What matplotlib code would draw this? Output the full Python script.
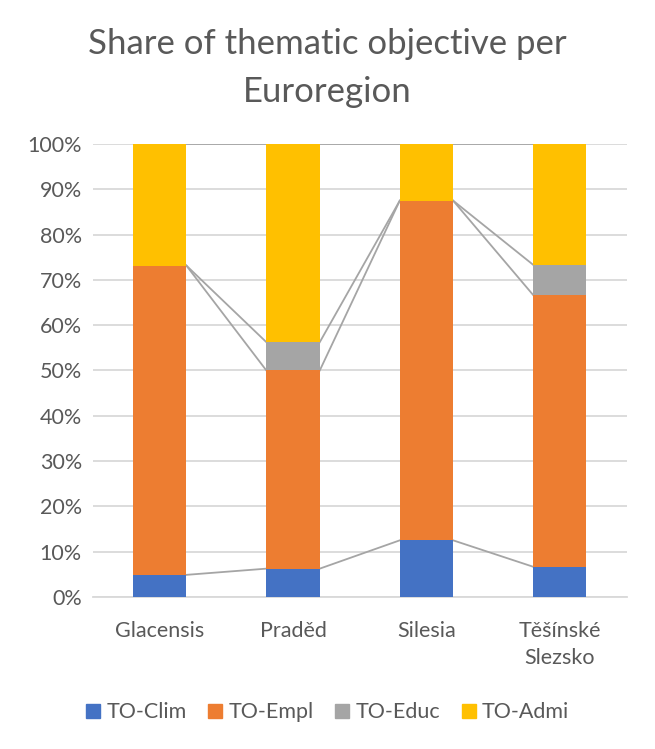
import numpy as np
import matplotlib.pyplot as plt
from matplotlib.patches import Patch

regions = ["Glacensis", "Praděd", "Silesia", "Těšínské\nSlezsko"]
series = ["TO-Clim", "TO-Empl", "TO-Educ", "TO-Admi"]
colors = ["#4472C4", "#ED7D31", "#A5A5A5", "#FFC000"]

# shares in percent per euroregion
to_clim = [4.88, 6.25, 12.5, 6.67]
to_empl = [68.29, 43.75, 75.0, 60.0]
to_educ = [0.0, 6.25, 0.0, 6.67]
to_admi = [26.83, 43.75, 12.5, 26.66]

values = np.array([to_clim, to_empl, to_educ, to_admi])
values = values / values.sum(axis=0) * 100

plt.rcParams['font.family'] = ['Lato', 'DejaVu Sans']
txt = "#595959"

fig = plt.figure(figsize=(6.55, 7.49), dpi=100)
ax = fig.add_axes([0.142, 0.203, 0.8145, 0.6047])

x = np.arange(len(regions))
w = 0.4
bottom = np.zeros(len(regions))
for vals, c in zip(values, colors):
    ax.bar(x, vals, w, bottom=bottom, color=c, zorder=3)
    bottom = bottom + vals
    # series lines between neighbouring columns
    for i in range(len(regions) - 1):
        ax.plot([x[i] + w / 2, x[i + 1] - w / 2], [bottom[i], bottom[i + 1]],
                color="#A5A5A5", lw=1.3, zorder=2)

ax.set_xlim(-0.5, len(regions) - 0.5)
ax.set_ylim(0, 100)
ax.set_yticks(np.arange(0, 101, 10))
ax.set_yticklabels([f"{v}%" for v in range(0, 101, 10)])
ax.set_xticks(x)
ax.set_xticklabels(regions, linespacing=1.45)
ax.tick_params(length=0, labelsize=15.5, colors=txt)
ax.tick_params(axis='x', pad=17)
ax.tick_params(axis='y', pad=8)
ax.grid(axis='y', color="#D9D9D9", lw=1.3, zorder=0)
for s in ax.spines.values():
    s.set_visible(False)
ax.spines['bottom'].set_visible(True)
ax.spines['bottom'].set_color("#D9D9D9")
ax.spines['bottom'].set_linewidth(1.3)

fig.suptitle("Share of thematic objective per\nEuroregion", y=0.962,
             fontsize=25, color=txt, linespacing=1.6)

handles = [Patch(color=c) for c in colors]
fig.legend(handles, series, loc='center', bbox_to_anchor=(0.5, 0.049), ncol=4,
           frameon=False, fontsize=15.5, labelcolor=txt, handlelength=0.65,
           handleheight=0.65, handletextpad=0.3, columnspacing=1.0)

fig.savefig("out.png", dpi=100)
